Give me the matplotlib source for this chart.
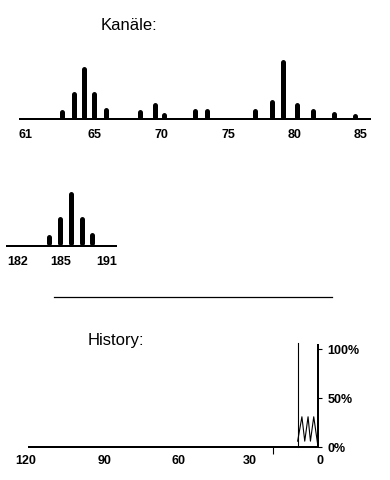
import matplotlib
matplotlib.use('Agg')
import matplotlib.pyplot as plt
from matplotlib.lines import Line2D
from matplotlib.transforms import ScaledTranslation

plt.rcParams['font.family'] = ['Liberation Sans', 'DejaVu Sans']

# upper band: channel position / level
band1_ch = [62.5, 63.4, 64.2, 64.9, 65.8, 68.4, 69.5, 70.2, 72.5, 73.4,
            77.05, 78.3, 79.15, 80.2, 81.4, 83.0, 84.55]
band1_lvl = [10, 28, 53, 28, 12, 10, 17, 7, 11, 11, 11, 20, 60, 17, 11, 8, 6]
band1_ticks = [59.8, 65, 70, 75, 80, 85]
band1_labels = ['61', '65', '70', '75', '80', '85']

# lower band
band2_ch = [184, 185, 186, 187, 188]
band2_lvl = [11, 29, 54, 29, 13]
band2_ticks = [181.0, 185.0, 189.3]
band2_labels = ['182', '185', '191']

# history: seconds ago / load %
hist_t = [8.6, 6.8, 5.6, 4.2, 3.2, 1.8, 0.1]
hist_pct = [6, 31, 6, 31, 6, 31, 2]
mark_t = 8.6
mark_top = 107
hist_ticks = [120, 90, 60, 30, 0]
hist_marks = [19, 0]
pct_ticks = [0, 50, 100]

W, H = 390, 480


def px_box(left, right, top, bottom):
    return [left / W, 1 - bottom / H, (right - left) / W, (bottom - top) / H]


def spectrum(fig, box, ch, lvl, xlim, ticks, labels):
    ax = fig.add_axes(box)
    r = 2.5  # half bar width, round caps
    tops = [max(v - r, r + 0.5) for v in lvl]
    ax.vlines(ch, r, tops, colors='black', lw=3.6, capstyle='round', clip_on=False)
    ax.set_xlim(*xlim)
    ax.set_ylim(0, 70)
    for s in ['top', 'left', 'right']:
        ax.spines[s].set_visible(False)
    ax.spines['bottom'].set_linewidth(1.44)
    ax.set_yticks([])
    ax.set_xticks(ticks, labels, fontweight='bold')
    ax.tick_params(axis='x', length=0, pad=7, labelsize=9)
    ax.patch.set_visible(False)
    return ax


fig = plt.figure(figsize=(3.9, 4.8), dpi=100)

fig.text(129 / W, 1 - 30 / H, 'Kanäle:', ha='center', va='baseline', fontsize=12)
spectrum(fig, px_box(20, 370, 49, 119), band1_ch, band1_lvl,
         (59.36, 85.68), band1_ticks, band1_labels)
spectrum(fig, px_box(6.7, 116, 176, 246), band2_ch, band2_lvl,
         (180.02, 190.19), band2_ticks, band2_labels)

fig.add_artist(Line2D([54 / W, 332 / W], [1 - 297 / H] * 2, lw=0.9, color='black'))

fig.text(116 / W, 1 - 345 / H, 'History:', ha='center', va='baseline', fontsize=12)
ax = fig.add_axes(px_box(29, 318, 345, 447))
ax.plot(hist_t, hist_pct, color='black', lw=0.8)
ax.plot([mark_t, mark_t], [0, mark_top], color='black', lw=0.8, clip_on=False)
ax.set_xlim(122.1, 0)
ax.set_ylim(0, 104.6)
for s in ['top', 'left']:
    ax.spines[s].set_visible(False)
for s in ['bottom', 'right']:
    ax.spines[s].set_linewidth(1.44)
ax.yaxis.tick_right()
ax.set_yticks(pct_ticks, [f'{p}%' for p in pct_ticks], fontweight='bold')
ax.tick_params(axis='y', direction='out', length=3, width=0.8, pad=4, labelsize=9)
ax.set_xticks(hist_ticks, [str(t) for t in hist_ticks], fontweight='bold')
ax.set_xticks(hist_marks, minor=True)
ax.tick_params(axis='x', which='major', length=0, pad=5.5, labelsize=9)
ax.tick_params(axis='x', which='minor', direction='out', length=5, width=0.8)
for lab, dx in zip(ax.get_xticklabels(), [-8.5, 0, 2.5, 3, 2]):
    lab.set_transform(lab.get_transform() + ScaledTranslation(dx / 100, 0, fig.dpi_scale_trans))

fig.savefig('out.png', dpi=100)
